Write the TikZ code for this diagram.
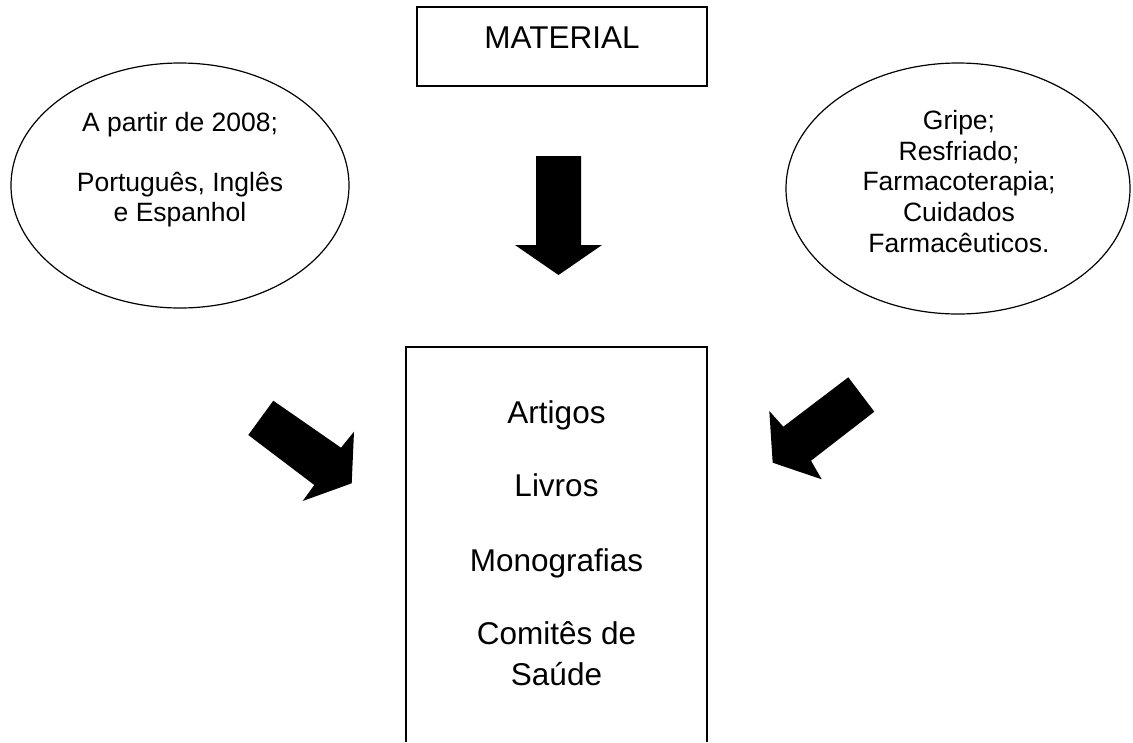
\documentclass[tikz,border=0pt]{standalone}
\usepackage{fontspec}
\setmainfont{Liberation Sans}
\usetikzlibrary{shapes.geometric}
\tikzset{
  frame/.style={draw=black, line width=1.4pt},
  oval/.style={draw=black, line width=1.2pt, ellipse, inner sep=0pt},
  bigtxt/.style={anchor=base, inner sep=0pt, font=\fontsize{31.5}{36}\selectfont},
  smalltxt/.style={anchor=base, inner sep=0pt, font=\fontsize{26.5}{30}\selectfont},
  blockarrow/.style={fill=black, draw=none}
}
\begin{document}
\begin{tikzpicture}[x=1pt, y=-1pt]
\useasboundingbox (0,0) rectangle (1133,742);
% MATERIAL box
\node[frame, rectangle, minimum width=290pt, minimum height=79pt, inner sep=0pt] (matbox) at (562,46.5) {};
\node[bigtxt] (mattxt) at (562,48.3) {MATERIAL};
% left ellipse
\node[oval, minimum width=338pt, minimum height=245pt] (leftoval) at (180,185.5) {};
\node[smalltxt] (l1) at (180,131.7) {A partir de 2008;};
\node[smalltxt] (l2) at (180,191.7) {Português, Inglês};
\node[smalltxt] (l3) at (180,221.7) {e Espanhol};
% right ellipse
\node[oval, minimum width=344pt, minimum height=251pt] (rightoval) at (958,188.5) {};
\node[smalltxt] (r1) at (959,129.5) {Gripe;};
\node[smalltxt] (r2) at (959,160) {Resfriado;};
\node[smalltxt] (r3) at (959,190.5) {Farmacoterapia;};
\node[smalltxt] (r4) at (959,221.5) {Cuidados};
\node[smalltxt] (r5) at (959,252.5) {Farmacêuticos.};
% bottom box (open at the bottom, cut by the page)
\coordinate (bl) at (406,742);
\coordinate (tl) at (406,347);
\coordinate (tr) at (707,347);
\coordinate (br) at (707,742);
\draw[frame] (bl) -- (tl) -- (tr) -- (br);
\node[bigtxt] (b1) at (556.5,423.3) {Artigos};
\node[bigtxt] (b2) at (556.5,496.7) {Livros};
\node[bigtxt] (b3) at (556.5,571.7) {Monografias};
\node[bigtxt] (b4) at (556.5,644) {Comitês de};
\node[bigtxt] (b5) at (556.5,685) {Saúde};
% block arrows
\fill[blockarrow] (536,156) -- (581,156) -- (581,245) -- (602,245) -- (558.5,275) -- (515,245) -- (536,245) -- cycle;
\fill[blockarrow] (273.3,400.7) -- (341,447.7) -- (354,431.7) -- (351.7,483.3) -- (302.7,501) -- (314.3,485) -- (248.3,435) -- cycle;
\fill[blockarrow] (848.3,377.3) -- (783.3,426.7) -- (769.3,411) -- (772.7,462.7) -- (821.7,479.3) -- (811,460.7) -- (874.3,411.7) -- cycle;
\end{tikzpicture}
\end{document}
